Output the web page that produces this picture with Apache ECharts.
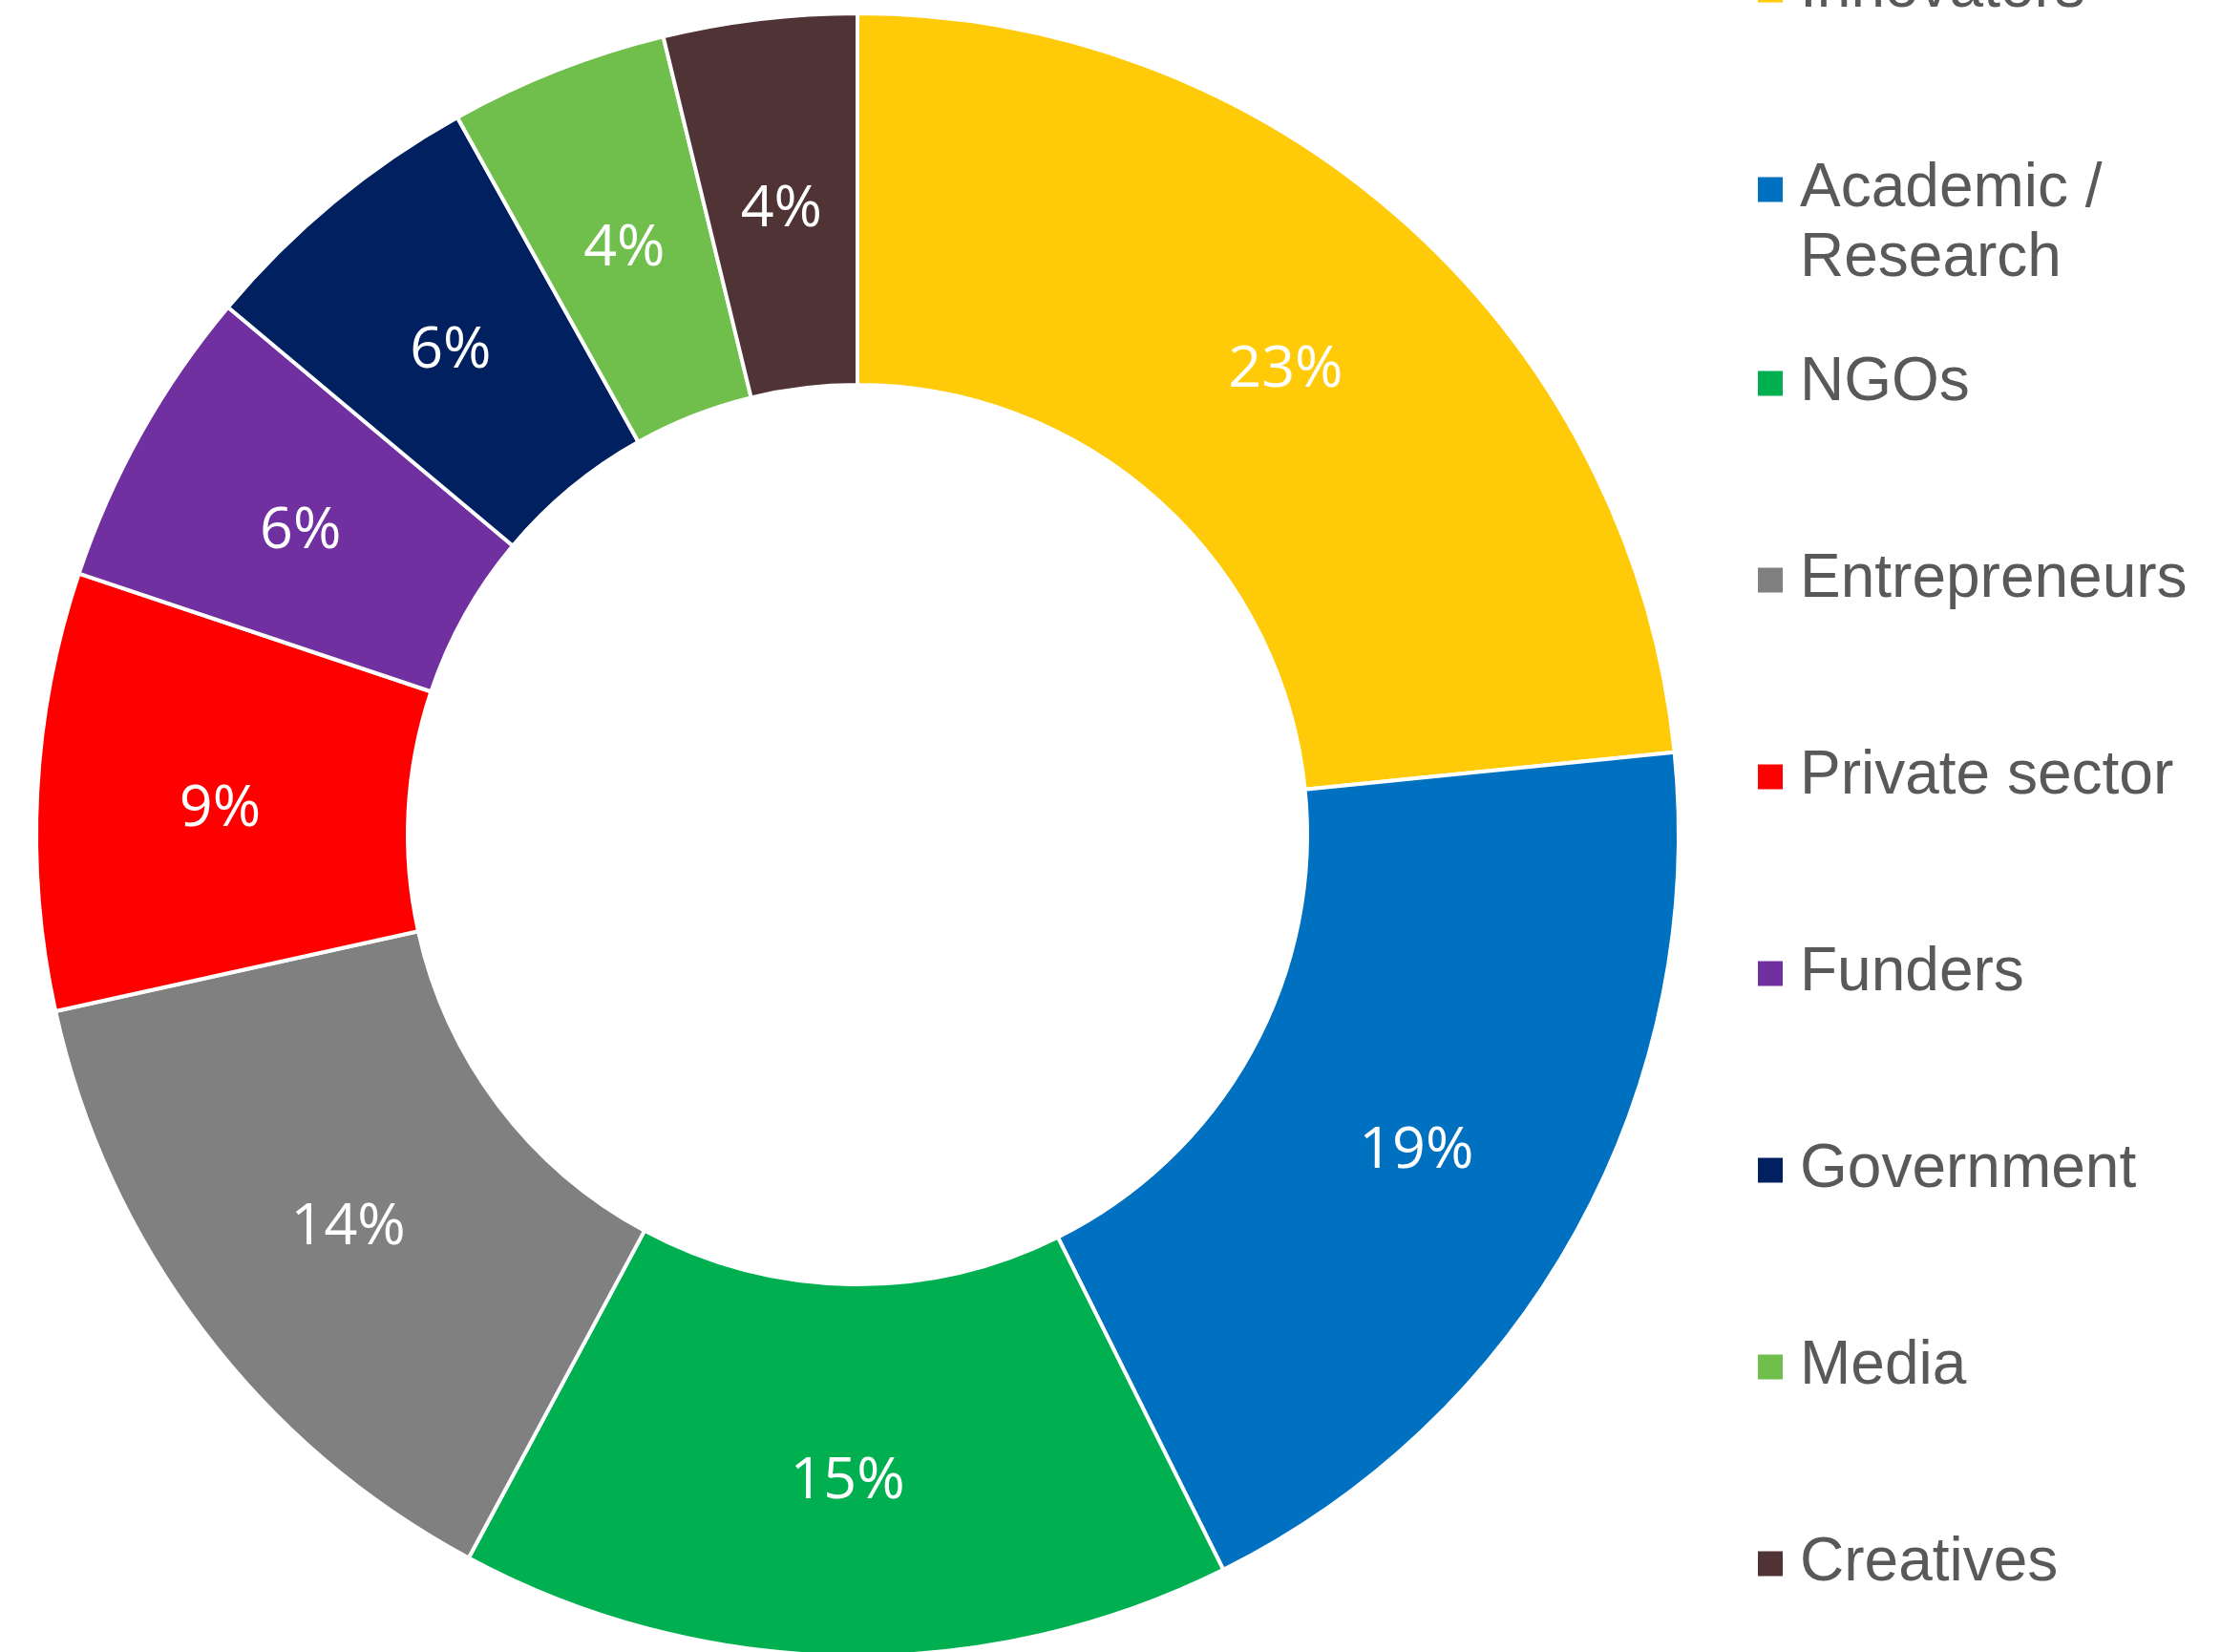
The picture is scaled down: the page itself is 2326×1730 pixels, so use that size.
<!DOCTYPE html>
<html><head><meta charset="utf-8">
<script src="https://cdn.jsdelivr.net/npm/echarts@6/dist/echarts.min.js"></script>
<style>html,body{margin:0;padding:0;background:#fff;overflow:hidden}#c{width:2326px;height:1730px}</style>
</head><body><div id="c"></div>
<script>
// ---- data ----
const categories = ['Innovators', 'Academic / Research', 'NGOs', 'Entrepreneurs', 'Private sector', 'Funders', 'Government', 'Media', 'Creatives'];
const shares = [23.4, 19.25, 15.2, 13.7, 8.6, 5.95, 5.8, 4.3, 3.8];
const colors = ['#FFCA08', '#0070C0', '#00B050', '#808080', '#FF0000', '#7030A0', '#002060', '#70BF4C', '#4F3335'];

// ---- layout ----
const CX = 898, CY = 874, R_OUT = 860, R_IN = 471;
const LEG_LEFT = 1839, LEG_FIRST = -11, LEG_STEP = 206, LINE_H = 73, FONT_LEG = 64;

const chart = echarts.init(document.getElementById('c'), null, {renderer: 'canvas'});

const legends = categories.map((name, i) => {
  const twoLine = name.indexOf(' / ') >= 0;
  const center = LEG_FIRST + LEG_STEP * i;
  return {
    data: [name],
    orient: 'vertical',
    left: LEG_LEFT,
    top: twoLine ? center - 28.5 : center - LINE_H / 2 + 5,
    padding: 0,
    icon: 'rect',
    itemWidth: 28,
    itemHeight: 28,
    selectedMode: false,
    formatter: n => n.split(' / ').map((s, k, a) => '{t|' + s + (k < a.length - 1 ? ' /' : '') + '}').join('\n'),
    textStyle: {
      padding: twoLine ? [LINE_H, 0, 0, 12] : [0, 0, 0, 12],
      rich: {
        t: {
          fontFamily: '"Liberation Sans", Arial, sans-serif',
          fontSize: FONT_LEG,
          color: '#595959',
          lineHeight: LINE_H
        }
      }
    }
  };
});

chart.setOption({
  animation: false,
  backgroundColor: '#ffffff',
  legend: legends,
  series: [{
    type: 'pie',
    center: [CX, CY],
    radius: [R_IN, R_OUT],
    startAngle: 90,
    clockwise: true,
    avoidLabelOverlap: false,
    silent: true,
    itemStyle: {borderColor: '#ffffff', borderWidth: 4},
    label: {
      show: true,
      position: 'inside',
      color: '#ffffff',
      fontFamily: '"Open Sans", "Noto Sans", sans-serif',
      fontSize: 61,
      offset: [0, 9],
      formatter: p => Math.round(p.percent) + '%'
    },
    labelLine: {show: false},
    data: categories.map((n, i) => ({name: n, value: shares[i], itemStyle: {color: colors[i]}}))
  }]
});
</script>
</body></html>
